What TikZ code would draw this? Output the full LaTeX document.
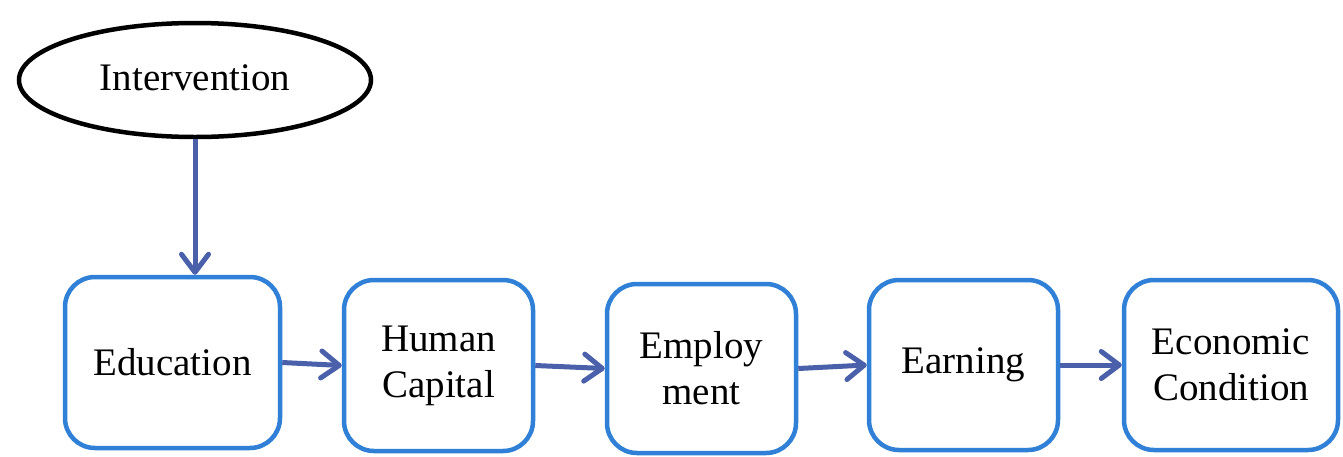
\documentclass[tikz,border=0pt]{standalone}
\usepackage{fontspec}
\setmainfont{Liberation Serif}
\usetikzlibrary{arrows.meta,shapes.geometric}
\definecolor{boxblue}{HTML}{2F80D6}
\definecolor{arrowblue}{HTML}{4A60AA}
\begin{document}
\begin{tikzpicture}[x=1pt,y=-1pt,
  every node/.style={font=\fontsize{39}{46}\selectfont, align=center, text=black},
  stepbox/.style={draw=boxblue, line width=4.5pt, rounded corners=30pt, inner sep=0pt},
  flow/.style={draw=arrowblue, line width=5pt, -{Straight Barb[length=18pt,width=27pt,round]}}]
\useasboundingbox (0,0) rectangle (1343,456);
\node[draw=black, line width=4.5pt, ellipse, inner sep=0pt, minimum width=352pt, minimum height=114pt] (ell) at (195,80) {};
\node at (195,78) {Intervention};
\node[stepbox, minimum width=215pt, minimum height=171pt] (b1) at (172.5,362.5) {Education};
\node[stepbox, minimum width=189pt, minimum height=171pt] (b2) at (438.5,365.5) {Human\\Capital};
\node[stepbox, minimum width=189pt, minimum height=169pt] (b3) at (701.5,368.5) {Employ\\ment};
\node[stepbox, minimum width=189pt, minimum height=170pt] (b4) at (963.5,365) {Earning};
\node[stepbox, minimum width=214pt, minimum height=170pt] (b5) at (1231,365) {Economic\\Condition};
\draw[flow] (ell.south) -- (ell.south |- b1.north);
\draw[flow] (b1.east) -- (b2.west);
\draw[flow] (b2.east) -- (b3.west);
\draw[flow] (b3.east) -- (b4.west);
\draw[flow] (b4.east) -- (b5.west);
\end{tikzpicture}
\end{document}
